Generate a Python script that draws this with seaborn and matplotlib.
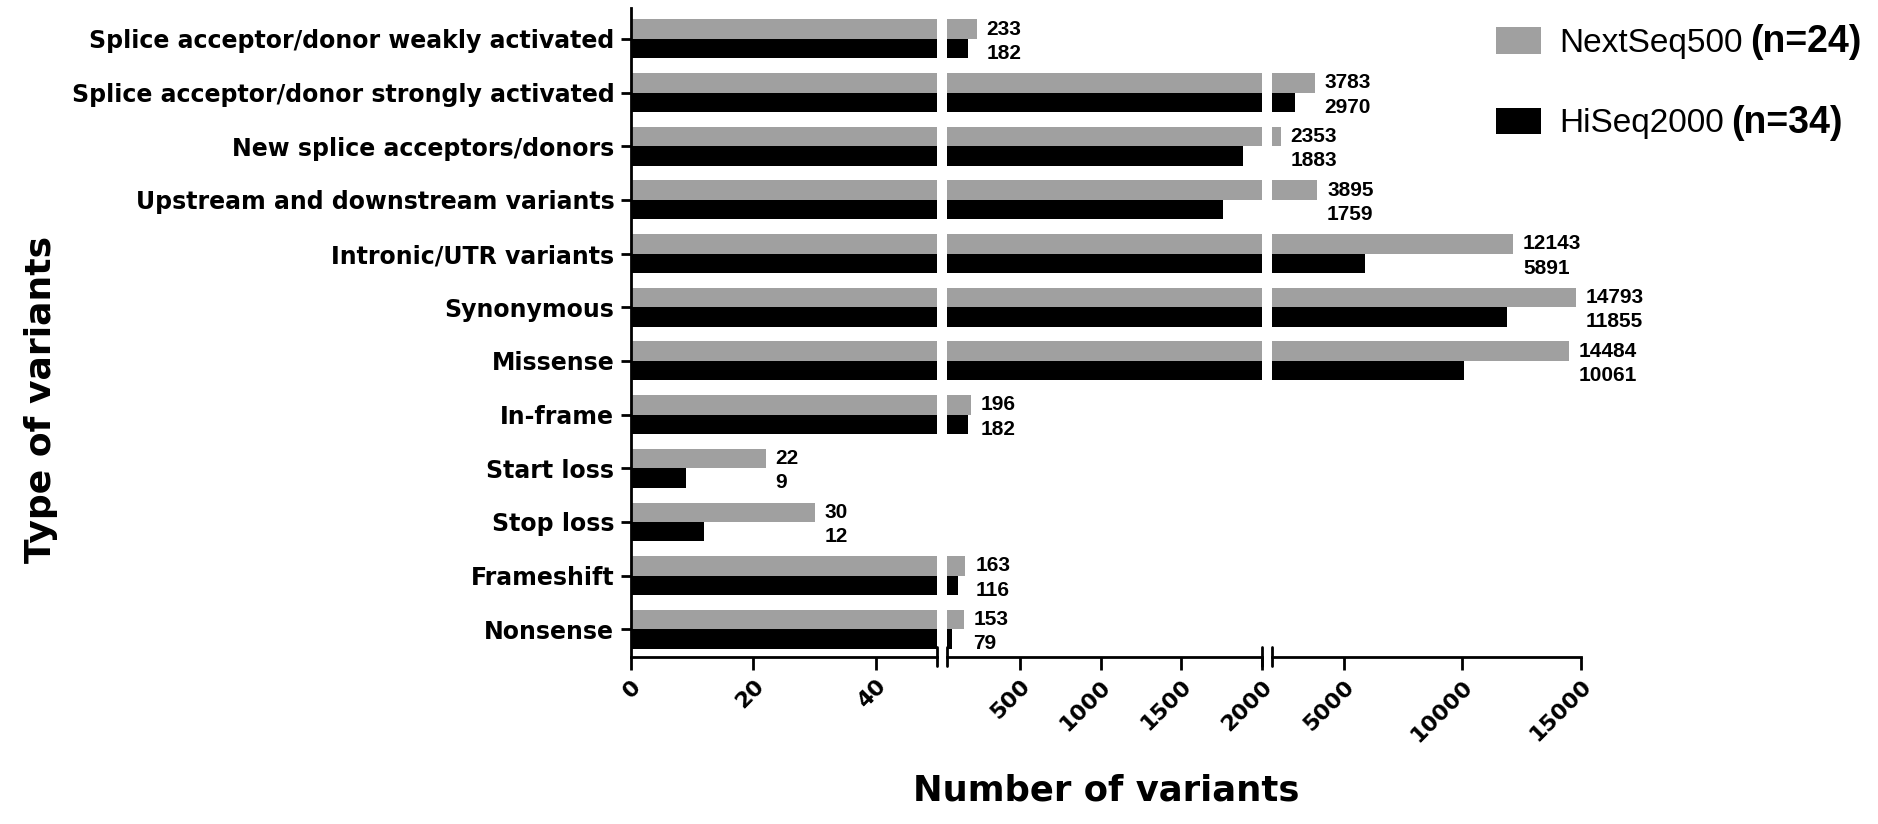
import numpy as np
import pandas as pd
import matplotlib
matplotlib.use("Agg")
import matplotlib.pyplot as plt
import seaborn as sns

# data
categories = [
    "Splice acceptor/donor weakly activated",
    "Splice acceptor/donor strongly activated",
    "New splice acceptors/donors",
    "Upstream and downstream variants",
    "Intronic/UTR variants",
    "Synonymous",
    "Missense",
    "In-frame",
    "Start loss",
    "Stop loss",
    "Frameshift",
    "Nonsense",
]
nextseq = [233, 3783, 2353, 3895, 12143, 14793, 14484, 196, 22, 30, 163, 153]
hiseq = [182, 2970, 1883, 1759, 5891, 11855, 10061, 182, 9, 12, 116, 79]
platforms = ["NextSeq500", "HiSeq2000"]
cohort = ["(n=24)", "(n=34)"]

# broken x axis: three linear pieces
segments = [(0, 50), (50, 2000), (2000, 15000)]
seg_ticks = [[0, 20, 40], [500, 1000, 1500, 2000], [5000, 10000, 15000]]
colors = ["#a0a0a0", "#000000"]

sns.set_style("ticks")
plt.rcParams["font.family"] = ["DejaVu Sans"]
plt.rcParams.update({
    "text.color": "black",
    "axes.labelcolor": "black",
    "axes.edgecolor": "black",
    "xtick.color": "black",
    "ytick.color": "black",
})

df = pd.DataFrame({
    "category": categories * 2,
    "count": nextseq + hiseq,
    "platform": [platforms[0]] * len(categories) + [platforms[1]] * len(categories),
})

fig = plt.figure(figsize=(18.78, 8.24), dpi=100)
gs = fig.add_gridspec(1, 3, width_ratios=[306, 315, 309], wspace=0.033,
                      left=0.336, right=0.842, top=0.990, bottom=0.203)
axes = [fig.add_subplot(gs[0, i]) for i in range(3)]

bar_w = 0.725
lw = 2.0
for i, ax in enumerate(axes):
    sns.barplot(data=df, y="category", x="count", hue="platform", order=categories,
                hue_order=platforms, palette=colors, orient="h", width=bar_w,
                saturation=1, linewidth=0, ax=ax, legend=(i == 0))
    ax.set_xlim(*segments[i])
    ax.set_ylim(11.51, -0.57)
    ax.set_xticks(seg_ticks[i])
    ax.set_xticklabels([str(t) for t in seg_ticks[i]], rotation=45, ha="right",
                       rotation_mode="anchor", fontsize=16, fontweight="bold")
    ax.set_xlabel("")
    ax.set_ylabel("")
    for s in ["top", "right"]:
        ax.spines[s].set_visible(False)
    ax.spines["bottom"].set_linewidth(lw)
    ax.spines["left"].set_linewidth(lw)
    ax.tick_params(axis="x", direction="out", length=9, width=lw, pad=5)
    if i == 0:
        ax.tick_params(axis="y", direction="out", length=7, width=lw, pad=5)
        ax.set_yticks(range(len(categories)))
        ax.set_yticklabels(categories, fontsize=17, fontweight="bold")
    else:
        ax.spines["left"].set_visible(False)
        ax.tick_params(axis="y", left=False, labelleft=False)

# break marks on the x axis
for i, ax in enumerate(axes):
    if i < 2:
        ax.plot([1, 1], [-0.015, 0.015], transform=ax.transAxes, color="black",
                lw=lw, clip_on=False)
    if i > 0:
        ax.plot([0, 0], [-0.015, 0.015], transform=ax.transAxes, color="black",
                lw=lw, clip_on=False)


def seg_of(v):
    for k, (lo, hi) in enumerate(segments):
        if v <= hi:
            return k
    return len(segments) - 1


# value labels next to the longer (grey) bar
off = bar_w / 4
for j, cat in enumerate(categories):
    g, h = nextseq[j], hiseq[j]
    ax = axes[seg_of(g)]
    ax.annotate(str(g), xy=(g, j - off), xytext=(7, 0), textcoords="offset points",
                va="center", ha="left", fontsize=15, fontweight="bold",
                family="Liberation Sans", annotation_clip=False)
    ax.annotate(str(h), xy=(g, j + off), xytext=(7, -3.5), textcoords="offset points",
                va="center", ha="left", fontsize=15, fontweight="bold",
                family="Liberation Sans", annotation_clip=False)

# legend outside, top right
handles, _ = axes[0].get_legend_handles_labels()
axes[0].get_legend().remove()
leg = fig.legend(handles, platforms, loc="upper left", bbox_to_anchor=(0.7966, 0.967),
                 frameon=False, prop={"family": "Liberation Sans", "size": 24},
                 borderpad=0, borderaxespad=0, handlelength=1.35, handleheight=0.84,
                 labelspacing=1.46, handletextpad=0.55)
fig.canvas.draw()
for txt, extra in zip(leg.get_texts(), cohort):
    axes[2].annotate(extra, xy=(1, 0), xycoords=txt, xytext=(5, -1),
                     textcoords="offset points", va="bottom", ha="left",
                     fontsize=27, fontweight="bold", family="Liberation Sans",
                     annotation_clip=False)

fig.text(0.589, 0.041, "Number of variants", ha="center", va="center",
         fontsize=25.5, fontweight="bold")
fig.text(0.022, 0.515, "Type of variants", ha="center", va="center", rotation=90,
         fontsize=26, fontweight="bold")

fig.savefig("out.png", dpi=100)
